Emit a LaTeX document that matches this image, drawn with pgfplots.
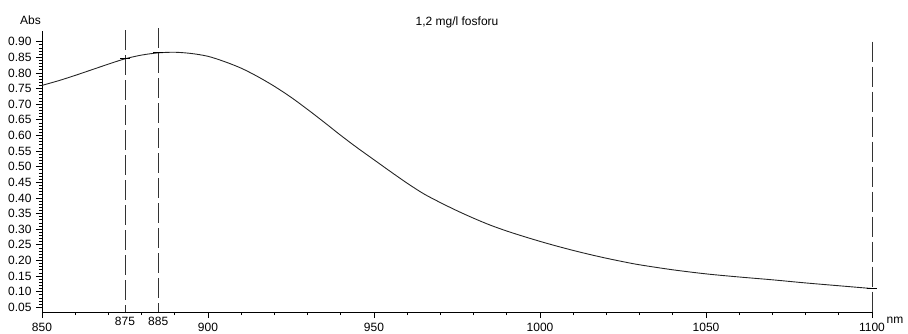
\documentclass[border=0pt]{standalone}
\usepackage{pgfplots}
\pgfplotsset{compat=1.18}
\usepackage{fontspec}
\setmainfont{Liberation Sans}
\begin{document}
\begin{tikzpicture}[x=1pt,y=1pt]
\useasboundingbox (-42,-21) rectangle (866,312);
\begin{axis}[
  at={(0,0)}, anchor=south west,
  scale only axis, width=830pt, height=281pt,
  xmin=850, xmax=1100, ymin=0.035, ymax=0.934,
  axis x line*=bottom, axis y line*=left,
  axis line style={black, line width=0.8pt, -},
  clip=false,
  tick align=outside,
  major tick length=6pt, minor tick length=3pt,
  tick style={black, line width=0.7pt},
  xtick={850,900,950,1000,1050,1100},
  minor xtick={860,870,880,890,910,920,930,940,960,970,980,990,1010,1020,1030,1040,1060,1070,1080,1090},
  extra x ticks={875,885},
  extra x tick style={major tick length=0pt},
  ytick={0.05,0.10,...,0.91},
  minor y tick num=4,
  /pgf/number format/assume math mode=true,
  ticklabel style={font=\fontsize{12}{13}\selectfont},
  xticklabel style={yshift=-1.5pt, /pgf/number format/.cd, set thousands separator={}},
  yticklabel style={xshift=-1pt, /pgf/number format/.cd, fixed, fixed zerofill, precision=2},
]
\addplot[black!85, line width=0.9pt, smooth] coordinates {
(850,0.760) (855,0.775) (860,0.792) (865,0.810) (870,0.828) (875,0.845)
(880,0.857) (885,0.864) (890,0.866) (895,0.862) (900,0.853) (905,0.836)
(910,0.815) (915,0.788) (920,0.757) (925,0.722) (930,0.683) (935,0.642)
(940,0.600) (945,0.560) (950,0.522) (955,0.484) (960,0.447) (965,0.413)
(970,0.385) (975,0.359) (980,0.335) (985,0.313) (990,0.294) (995,0.277)
(1000,0.261) (1005,0.246) (1010,0.232) (1015,0.219) (1020,0.207) (1025,0.196)
(1030,0.186) (1040,0.170) (1050,0.157) (1060,0.147) (1070,0.138) (1080,0.128)
(1090,0.119) (1100,0.110)};
\addplot[black!80, line width=0.9pt, dash pattern=on 20pt off 5pt] coordinates {(875,0.937) (875,0.035)};
\addplot[black!80, line width=0.9pt, dash pattern=on 20pt off 5pt] coordinates {(885,0.943) (885,0.035)};
\addplot[black!80, line width=0.9pt, dash pattern=on 20pt off 5pt] coordinates {(1100,0.900) (1100,0.035)};
\addplot[black, line width=0.8pt] coordinates {(873.5,0.845) (876.5,0.845)};
\addplot[black, line width=0.8pt] coordinates {(883.5,0.864) (886.5,0.864)};
\addplot[black, line width=0.8pt] coordinates {(1098.5,0.110) (1101.5,0.110)};
\end{axis}
\node[font=\fontsize{12}{13}\selectfont] at (-11.5,292) {Abs};
\node[font=\fontsize{12}{13}\selectfont] at (415,290) {1,2 mg/l fosforu};
\node[font=\fontsize{12}{13}\selectfont] at (853,-8) {nm};
\end{tikzpicture}
\end{document}
